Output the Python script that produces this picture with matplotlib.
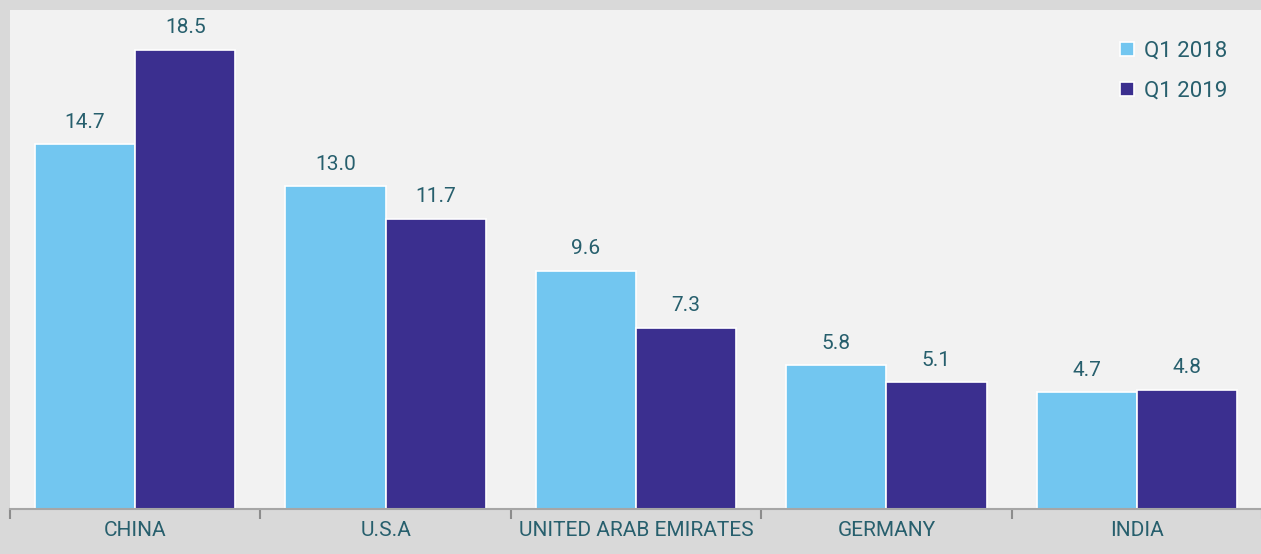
import numpy as np
import matplotlib.pyplot as plt

# data
countries = ['CHINA', 'U.S.A', 'UNITED ARAB EMIRATES', 'GERMANY', 'INDIA']
q1_2018 = [14.7, 13.0, 9.6, 5.8, 4.7]
q1_2019 = [18.5, 11.7, 7.3, 5.1, 4.8]
series_names = ['Q1 2018', 'Q1 2019']

light_blue = '#72c6f0'
dark_purple = '#3b2f8f'
text_col = '#275f6d'

plt.rcParams['font.family'] = ['Roboto', 'DejaVu Sans']

fig = plt.figure(figsize=(12.61, 5.54), dpi=100)
fig.patch.set_facecolor('#d9d9d9')
ax = fig.add_axes([10 / 1261, 45 / 554, 1252 / 1261, 499 / 554])
ax.set_facecolor('#f2f2f2')

x = np.arange(len(countries))
w = 0.4
b1 = ax.bar(x - w / 2, q1_2018, w, color=light_blue, edgecolor='white', linewidth=1.2, label=series_names[0])
b2 = ax.bar(x + w / 2, q1_2019, w, color=dark_purple, edgecolor='white', linewidth=1.2, label=series_names[1])

for bars, vals in [(b1, q1_2018), (b2, q1_2019)]:
    for rect, v in zip(bars, vals):
        ax.text(rect.get_x() + rect.get_width() / 2, v + 0.5, f'{v:.1f}',
                ha='center', va='bottom', fontsize=15, color=text_col)

ax.set_xlim(-0.5, len(countries) - 0.5)
ax.set_ylim(0, 20.1)
ax.set_yticks([])

# category labels centred, ticks at the boundaries
ax.set_xticks(x)
ax.set_xticklabels(countries, fontsize=15, color=text_col)
ax.tick_params(axis='x', which='major', length=0, pad=9)
ax.set_xticks(np.arange(-0.5, len(countries)), minor=True)
ax.tick_params(axis='x', which='minor', length=7, width=1.5, color='#8c8c8c', direction='out')

for s in ['top', 'right', 'left']:
    ax.spines[s].set_visible(False)
ax.spines['bottom'].set_color('#a6a6a6')
ax.spines['bottom'].set_linewidth(1.5)

leg = ax.legend(loc='upper right', bbox_to_anchor=(0.988, 0.978), frameon=False,
                fontsize=16, handlelength=0.6, handleheight=0.6, handletextpad=0.45,
                labelspacing=0.85)
for t in leg.get_texts():
    t.set_color(text_col)

fig.savefig('out.png', dpi=100, facecolor=fig.get_facecolor())
